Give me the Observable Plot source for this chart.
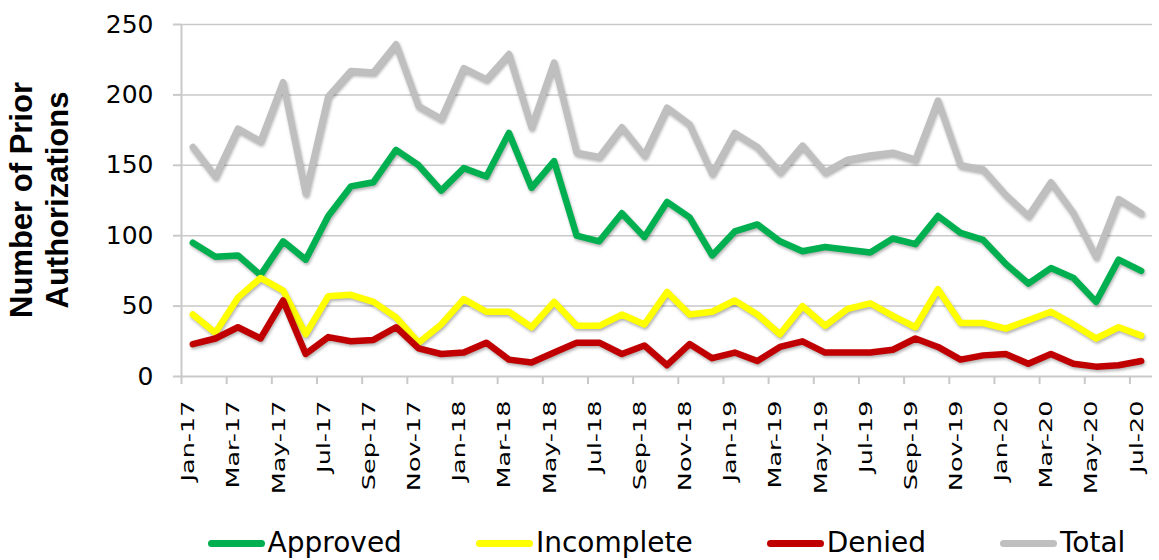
<!DOCTYPE html>
<html>
<head>
<meta charset="utf-8">
<script src="https://cdn.jsdelivr.net/npm/d3@7"></script>
<script src="https://cdn.jsdelivr.net/npm/@observablehq/plot@0.6"></script>
<style>
  html, body { margin: 0; background: #fff; overflow: hidden; }
  #chart { position: relative; width: 1159px; height: 560px; overflow: hidden; }
  #chart svg { max-width: none !important; }
  #legend {
    position: absolute; left: 181px; width: 971px; top: 526px; height: 34px;
    display: flex; justify-content: center; align-items: center; gap: 74px;
    font-family: "DejaVu Sans", sans-serif; font-size: 28px; line-height: 34px; color: #000;
  }
  #legend .item { display: flex; align-items: center; white-space: nowrap; }
  #legend .sw { width: 57px; height: 7px; border-radius: 4px; margin-right: 3px; }
</style>
</head>
<body>
<div id="chart"></div>
<script>
// Monthly prior authorization counts, Jan 2017 – Jul 2020
const months = [
  "Jan-17","Feb-17","Mar-17","Apr-17","May-17","Jun-17","Jul-17","Aug-17","Sep-17","Oct-17","Nov-17","Dec-17",
  "Jan-18","Feb-18","Mar-18","Apr-18","May-18","Jun-18","Jul-18","Aug-18","Sep-18","Oct-18","Nov-18","Dec-18",
  "Jan-19","Feb-19","Mar-19","Apr-19","May-19","Jun-19","Jul-19","Aug-19","Sep-19","Oct-19","Nov-19","Dec-19",
  "Jan-20","Feb-20","Mar-20","Apr-20","May-20","Jun-20","Jul-20"
];
const approved = [
  95, 85, 86, 72, 96, 83, 114, 135, 138, 161, 150, 132,
  148, 142, 173, 134, 153, 100, 96, 116, 99, 124, 113, 86,
  103, 108, 96, 89, 92, 90, 88, 98, 94, 114, 102, 97,
  80, 66, 77, 70, 53, 83, 75
];
const incomplete = [
  44, 31, 56, 70, 61, 30, 57, 58, 53, 42, 24, 37,
  55, 46, 46, 35, 53, 36, 36, 44, 37, 60, 44, 46,
  54, 44, 30, 50, 36, 48, 52, 43, 35, 62, 38, 38,
  34, 40, 46, 37, 27, 35, 29
];
const denied = [
  23, 27, 35, 27, 54, 16, 28, 25, 26, 35, 20, 16,
  17, 24, 12, 10, 17, 24, 24, 16, 22, 8, 23, 13,
  17, 11, 21, 25, 17, 17, 17, 19, 27, 21, 12, 15,
  16, 9, 16, 9, 7, 8, 11
];
const total = [
  163, 142, 176, 167, 209, 130, 199, 217, 216, 236, 192, 183,
  219, 211, 229, 177, 223, 159, 156, 177, 157, 191, 179, 144,
  173, 163, 145, 164, 145, 154, 157, 159, 154, 196, 150, 147,
  129, 114, 138, 116, 85, 126, 116
];
const seriesNames = ["Approved", "Incomplete", "Denied", "Total"];
const seriesColors = ["#00B050", "#FFFF00", "#C00000", "#BFBFBF"];
const yTicks = [0, 50, 100, 150, 200, 250];

const seriesValues = [approved, incomplete, denied, total];
const rows = seriesNames.flatMap((name, s) =>
  seriesValues[s].map((value, i) => ({month: months[i], value, series: name}))
);
const labelMonths = months.filter((m, i) => i % 2 === 0);

const W = 1159, H = 524, mL = 181, mR = 7, mT = 24, mB = H - 376;
const step = (W - mL - mR) / months.length;
const gridColor = "#c9c9c9";
const font = "DejaVu Sans, sans-serif";

const chart = Plot.plot({
  width: W,
  height: H,
  marginLeft: mL,
  marginRight: mR,
  marginTop: mT,
  marginBottom: mB,
  style: {fontFamily: font, background: "#fff", color: "#000"},
  x: {type: "point", domain: months, padding: 0.5, round: false, axis: null},
  y: {domain: [0, 250], axis: null},
  color: {domain: seriesNames, range: seriesColors},
  marks: [
    Plot.ruleY(yTicks.filter(d => d > 0), {stroke: gridColor, strokeWidth: 1.5}),
    Plot.ruleY([0], {stroke: gridColor, strokeWidth: 2}),
    Plot.ruleX([months[0]], {y1: 0, y2: 250, dx: -step / 2, stroke: gridColor, strokeWidth: 2}),
    Plot.axisY(yTicks, {
      tickSize: 8, tickPadding: 20, fontSize: 25, stroke: gridColor, strokeWidth: 2,
      fill: "#000", label: null
    }),
    Plot.axisX(labelMonths, {
      tickSize: 8, tickFormat: () => "", dx: -step / 2, stroke: gridColor, strokeWidth: 2, label: null
    }),
    Plot.axisX(labelMonths, {
      tickSize: 0, tickPadding: 24, tickRotate: -90, fontSize: 17, dx: -4, fill: "#000", label: null
    }),
    Plot.line(rows, {
      x: "month", y: "value", z: "series", stroke: "series",
      strokeWidth: 6.5, strokeLinejoin: "round", strokeLinecap: "round"
    })
  ]
});

// soft shadow under the series lines
d3.select(chart).selectAll('g[aria-label="line"] path')
  .style("filter", "drop-shadow(1px 2.5px 1.5px rgba(0,0,0,0.3))");

// widen the rotated month labels along their reading direction
d3.select(chart).selectAll('g[aria-label="x-axis tick label"] text').each(function () {
  const t = this.getAttribute("transform") || "";
  this.setAttribute("transform", (t + " scale(1.5,1)").trim());
});

// two-line y axis title
const title = d3.select(chart).append("text")
  .attr("transform", `translate(0,${(mT + 376) / 2}) rotate(-90)`)
  .attr("text-anchor", "middle")
  .attr("font-family", "Liberation Sans, Arial, sans-serif")
  .attr("font-weight", "bold")
  .attr("font-size", 31)
  .attr("fill", "#000");
title.append("tspan").attr("x", 0).attr("y", 32).text("Number of Prior");
title.append("tspan").attr("x", 0).attr("y", 68).text("Authorizations");

const container = document.getElementById("chart");
container.appendChild(chart);

// legend below the plot
const legend = d3.select(container).append("div").attr("id", "legend");
seriesNames.forEach((name, i) => {
  const item = legend.append("div").attr("class", "item");
  item.append("div").attr("class", "sw").style("background", seriesColors[i]);
  item.append("span").text(name);
});
</script>
</body>
</html>
